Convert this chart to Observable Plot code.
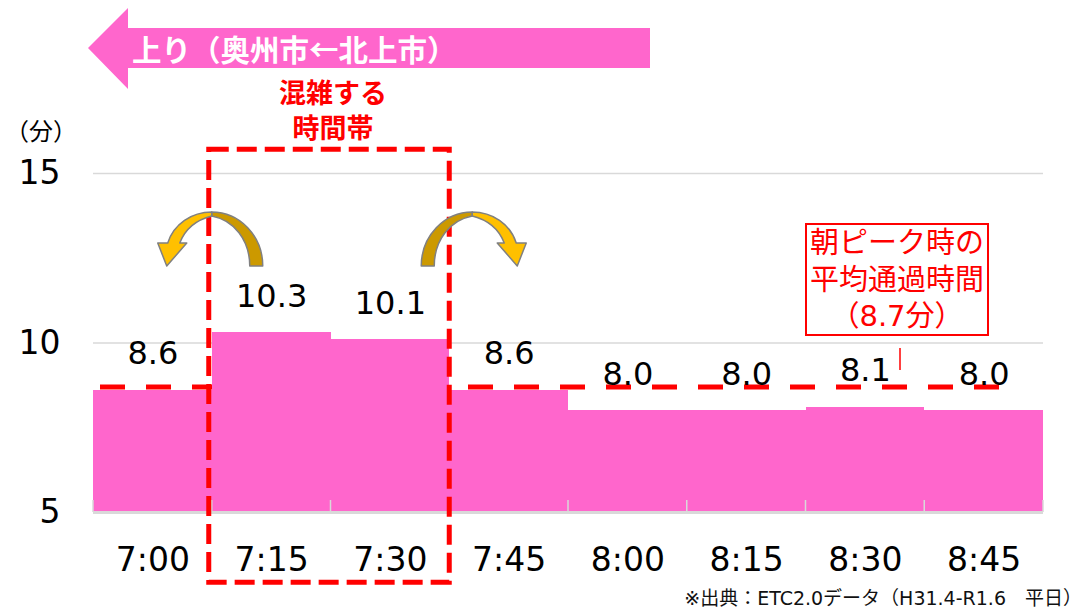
<!DOCTYPE html>
<html><head><meta charset="utf-8">
<script src="https://cdn.jsdelivr.net/npm/d3@7"></script>
<script src="https://cdn.jsdelivr.net/npm/@observablehq/plot@0.6"></script>
<style>body{margin:0;background:#fff;} svg{display:block;}</style>
</head><body><div id="chart"></div>
<script>
const times = ["7:00","7:15","7:30","7:45","8:00","8:15","8:30","8:45"];
const minutes = [8.6,10.3,10.1,8.6,8.0,8.0,8.1,8.0];
const valueLabels = ["8.6","10.3","10.1","8.6","8.0","8.0","8.1","8.0"];
const yTicks = [5,10,15];
const peakAverage = 8.7;
const congestedSlots = ["7:15","7:30"];
const bannerText = "上り（奥州市←北上市）";
const congestionLabel = ["混雑する","時間帯"];
const averageNote = ["朝ピーク時の","平均通過時間","（8.7分）"];
const unitLabel = "（分）";
const sourceNote = "※出典：ETC2.0データ（H31.4-R1.6　平日）";

const FONT = "'DejaVu Sans','Noto Sans CJK JP',sans-serif";
const CJK = "'Noto Sans CJK JP',sans-serif";
const PINK = "#ff66cc", RED = "#ff0000", GRID = "#d9d9d9";
const data = times.map((t,i)=>({time:t, value:minutes[i], label:valueLabels[i]}));

const chart = Plot.plot({
  width: 1090, height: 611,
  marginLeft: 93, marginRight: 47, marginTop: 173, marginBottom: 99,
  style: {fontFamily: FONT, fontSize: "33px", color: "#000", background: "#fff", overflow: "visible"},
  x: {domain: times, padding: 0, round: false, label: null, tickSize: 0, tickPadding: 35},
  y: {domain: [yTicks[0], yTicks[yTicks.length-1]], ticks: yTicks, label: null, tickSize: 0, tickPadding: 33},
  marks: [
    Plot.ruleY(yTicks.slice(1), {stroke: GRID, strokeWidth: 1.5}),
    Plot.ruleY([peakAverage], {stroke: RED, strokeWidth: 5, strokeDasharray: "25,21", insetLeft: 7, insetRight: 35}),
    Plot.barY(data, {x: "time", y1: () => yTicks[0], y2: "value", fill: PINK, inset: 0, shapeRendering: "crispEdges"}),
    Plot.ruleY([yTicks[0]], {stroke: GRID, strokeWidth: 3}),
    Plot.text(data, {x: "time", y: "value", text: "label", dy: -26, lineAnchor: "bottom", fontSize: 32, fill: "#000"})
  ]
});
document.getElementById("chart").appendChild(chart);

const svg = d3.select(chart);
const xs = chart.scale("x"), ys = chart.scale("y");
const bw = xs.bandwidth;
const baseY = ys.apply(yTicks[0]);

// category boundary ticks on baseline
const bounds = times.map(t => xs.apply(t)).concat([xs.apply(times[times.length-1]) + bw]);
svg.append("g").selectAll("line").data(bounds).join("line")
  .attr("x1", d => d).attr("x2", d => d).attr("y1", baseY - 12).attr("y2", baseY)
  .attr("stroke", GRID).attr("stroke-width", 1.5);

// congested period dashed box
const boxLeft = xs.apply(congestedSlots[0]) - 3;
const boxRight = xs.apply(congestedSlots[congestedSlots.length-1]) + bw;
const boxTop = ys.apply(15.7), boxBottom = ys.apply(2.93);
svg.append("rect").attr("x", boxLeft).attr("y", boxTop).attr("width", boxRight - boxLeft).attr("height", boxBottom - boxTop)
  .attr("fill", "none").attr("stroke", RED).attr("stroke-width", 5).attr("stroke-dasharray", "20,8");

// curved arrows
function curvedArrow(tx, ty, mirror) {
  const g = svg.append("g").attr("transform", `translate(${tx},${ty})` + (mirror ? " scale(-1,1)" : ""));
  g.append("path").attr("d", "M0,0 C28,0 51,24 51,54 L38,54 C38,28 22,8 0,4 Z")
    .attr("fill", "#cc9900").attr("stroke", "#808080").attr("stroke-width", 1.5).attr("stroke-linejoin", "round");
  g.append("path").attr("d", "M0,0 C-20,0 -38,12 -44,31 L-54,31 L-45,54 L-25,31 L-32,31 C-27,18 -16,8 0,4 Z")
    .attr("fill", "#ffc000").attr("stroke", "#808080").attr("stroke-width", 1.5).attr("stroke-linejoin", "round");
}
curvedArrow(boxLeft + 3, 212, false);
curvedArrow(boxRight + 23, 212, true);

function label(x, y, s, opts) {
  return svg.append("text").attr("x", x).attr("y", y)
    .attr("text-anchor", opts.anchor || "middle").attr("dominant-baseline", "central")
    .attr("font-size", opts.size).attr("font-weight", opts.weight || "normal")
    .attr("fill", opts.fill || "#000").attr("font-family", opts.family || FONT).text(s);
}

// banner arrow
svg.append("path").attr("d", "M88,48 L128,8 L128,28 L650,28 L650,68 L128,68 L128,89 Z").attr("fill", PINK);
label(132, 48, bannerText, {anchor: "start", size: 29.5, weight: "bold", fill: "#fff", family: CJK});

// congestion label
const labelX = (boxLeft + boxRight) / 2 + 4;
congestionLabel.forEach((s, i) => label(labelX, 93 + i * 35, s, {size: 27, weight: "bold", fill: RED}));

// average note box
svg.append("rect").attr("x", 806).attr("y", 224).attr("width", 182).attr("height", 111)
  .attr("fill", "#fff").attr("stroke", RED).attr("stroke-width", 2);
averageNote.forEach((s, i) => label(897, 243 + i * 36.5, s, {size: 29, fill: RED}));
svg.append("line").attr("x1", 900).attr("x2", 900).attr("y1", 348).attr("y2", 370).attr("stroke", RED).attr("stroke-width", 1.5);

// unit label
label(41, 132, unitLabel, {size: 24});

// source note
label(1082, 598, sourceNote, {anchor: "end", size: 19, fill: "#111"});
</script>
</body></html>
